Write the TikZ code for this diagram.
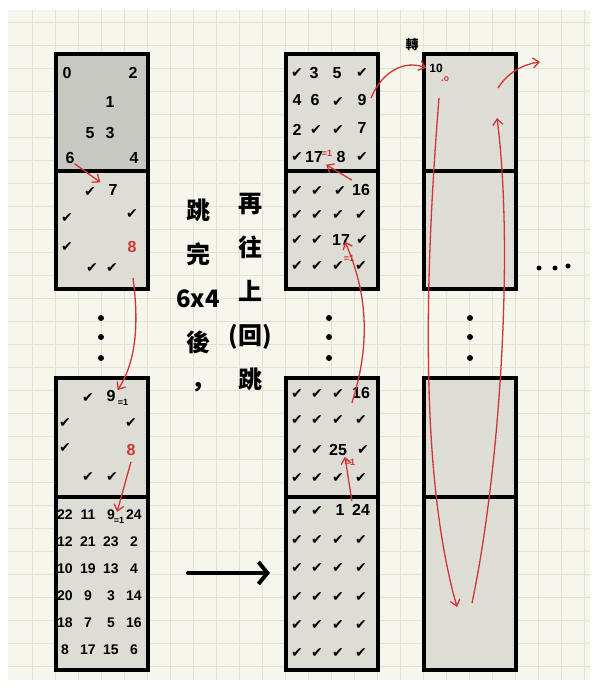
\documentclass[tikz,border=0pt]{standalone}
\usepackage{fontspec}
\setmainfont{Liberation Sans}
\newfontfamily\symfont{DejaVu Sans}
\newfontfamily\cjk{Noto Sans CJK TC}
\usetikzlibrary{arrows.meta,positioning}
\definecolor{paper}{HTML}{F7F6EC}
\definecolor{gridc}{HTML}{E2E1D3}
\definecolor{boxdark}{HTML}{C8C8C2}
\definecolor{boxlight}{HTML}{DDDCD5}
\definecolor{pen}{HTML}{D03535}
\newcommand{\ck}{{\symfont\mdseries\fontsize{14}{14}\selectfont ✔}}

\tikzset{
  blk/.style={draw=black, line width=4pt, fill=boxlight, minimum width=92pt, inner sep=0pt, anchor=north west},
  num/.style={font=\bfseries\fontsize{16}{16}\selectfont, inner sep=0pt},
  smallnum/.style={font=\bfseries\fontsize{14}{14}\selectfont, inner sep=0pt},
  chk/.style={inner sep=0pt},
  tiny1/.style={font=\bfseries\fontsize{9}{9}\selectfont, inner sep=0pt},
  redarr/.style={draw=pen, line width=1.3pt, -{Straight Barb[length=6pt,width=10pt]}},
  bigdot/.style={circle, fill=black, inner sep=0pt, minimum size=6pt},
  cjkt/.style={font=\cjk\bfseries\fontsize{24}{44}\selectfont, inner sep=0pt, align=center},
}

\begin{document}
\begin{tikzpicture}[x=1pt,y=-1pt]
  \useasboundingbox (0,0) rectangle (597,688);
  % paper and grid
  \fill[white] (0,0) rectangle (597,688);
  \fill[paper] (8,10) rectangle (590,680);
  \foreach \gx in {32,55,...,584} \draw[gridc, line width=1pt] (\gx,10) -- (\gx,680);
  \foreach \gy in {22,45,...,676} \draw[gridc, line width=1pt] (8,\gy) -- (590,\gy);

  % left column
  \node[blk, fill=boxdark, minimum height=117pt] (lA) at (54,52) {};
  \node[blk, minimum height=118pt] (lB) at (54,169) {};
  \node[blk, minimum height=119pt] (lC) at (54,376) {};
  \node[blk, minimum height=173pt] (lD) at (54,495) {};
  % middle column
  \node[blk, minimum height=117pt] (mA) at (284,52) {};
  \node[blk, minimum height=118pt] (mB) at (284,169) {};
  \node[blk, minimum height=119pt] (mC) at (284,376) {};
  \node[blk, minimum height=173pt] (mD) at (284,495) {};
  % right column
  \node[blk, minimum height=117pt] (rA) at (422,52) {};
  \node[blk, minimum height=118pt] (rB) at (422,169) {};
  \node[blk, minimum height=119pt] (rC) at (422,376) {};
  \node[blk, minimum height=173pt] (rD) at (422,495) {};

  % dots between blocks
  \foreach \dy [count=\k] in {318,337,358} {
    \node[bigdot] (ldot\k) at (101,\dy) {};
    \node[bigdot] (mdot\k) at (329,\dy) {};
    \node[bigdot] (rdot\k) at (470,\dy) {};
  }
  \node[bigdot, minimum size=5pt] (more1) at (539,268) {};
  \node[bigdot, minimum size=5pt] (more2) at (555,268) {};
  \node[bigdot, minimum size=5pt] (more3) at (568,266) {};

  % left block A
  \node[num] (la0) at (67,73) {0};
  \node[num] (la2) at (133,73) {2};
  \node[num] (la1) at (110,102) {1};
  \node[num] (la5) at (90,133) {5};
  \node[num] (la3) at (110,133) {3};
  \node[num] (la6) at (70,158) {6};
  \node[num] (la4) at (134,158) {4};
  % left block B
  \node[chk] (lb1) at (90,192) {\ck};
  \node[num] (lb7) at (113,190) {7};
  \node[chk] (lb2) at (67,218) {\ck};
  \node[chk] (lb3) at (132,214) {\ck};
  \node[chk] (lb4) at (67,247) {\ck};
  \node[num, text=pen] (lb8) at (132,247) {8};
  \node[chk] (lb5) at (92,268) {\ck};
  \node[chk] (lb6) at (112,268) {\ck};
  % left block C
  \node[chk] (lc1) at (88,398) {\ck};
  \node[num] (lc9) at (111,396) {9};
  \node[tiny1] (lc9e) at (123,402) {=1};
  \node[chk] (lc2) at (65,423) {\ck};
  \node[chk] (lc3) at (131,423) {\ck};
  \node[chk] (lc4) at (65,448) {\ck};
  \node[num, text=pen] (lc8) at (131,450) {8};
  \node[chk] (lc5) at (88,477) {\ck};
  \node[chk] (lc6) at (112,477) {\ck};
  % left block D (6x4)
  \foreach \row [count=\r] in {{22,11,9,24},{12,21,23,2},{10,19,13,4},{20,9,3,14},{18,7,5,16},{8,17,15,6}}
    \foreach \v [count=\c] in \row
      \node[smallnum] (ld-\r-\c) at ({42+23*\c},{488+27*\r}) {\v};
  \node[tiny1] (ld9e) at (119,520) {=1};

  % middle block A
  \node[chk] (ma1) at (297,73) {\ck};
  \node[num] (ma3) at (314,73) {3};
  \node[num] (ma5) at (337,73) {5};
  \node[chk] (ma2) at (362,73) {\ck};
  \node[num] (ma4) at (297,100) {4};
  \node[num] (ma6) at (315,100) {6};
  \node[chk] (ma7) at (338,102) {\ck};
  \node[num] (ma9) at (362,100) {9};
  \node[num] (matwo) at (297,130) {2};
  \node[chk] (ma8) at (316,130) {\ck};
  \node[chk] (ma10) at (338,130) {\ck};
  \node[num] (maseven) at (362,128) {7};
  \node[chk] (ma11) at (297,157) {\ck};
  \node[num] (ma17) at (314,157) {17};
  \node[tiny1, text=pen] (ma17e) at (327,153) {=1};
  \node[num] (maeight) at (341,157) {8};
  \node[chk] (ma12) at (362,157) {\ck};
  % middle block B
  \foreach \cx [count=\c] in {297,317,340} \node[chk] (mb-1-\c) at (\cx,191) {\ck};
  \node[num] (mb16) at (361,190) {16};
  \foreach \cx [count=\c] in {297,317,338,361} \node[chk] (mb-2-\c) at (\cx,215) {\ck};
  \node[chk] (mb-3-1) at (297,240) {\ck};
  \node[chk] (mb-3-2) at (317,240) {\ck};
  \node[num] (mb17) at (341,240) {17};
  \node[tiny1, text=pen] (mb17e) at (349,258) {=1};
  \node[chk] (mb-3-4) at (362,240) {\ck};
  \foreach \cx [count=\c] in {297,317,338,361} \node[chk] (mb-4-\c) at (\cx,266) {\ck};
  % middle block C
  \foreach \cx [count=\c] in {297,317,338} \node[chk] (mc-1-\c) at (\cx,394) {\ck};
  \node[num] (mc16) at (361,393) {16};
  \foreach \cx [count=\c] in {297,317,338,361} \node[chk] (mc-2-\c) at (\cx,420) {\ck};
  \node[chk] (mc-3-1) at (297,450) {\ck};
  \node[chk] (mc-3-2) at (317,450) {\ck};
  \node[num] (mc25) at (338,450) {25};
  \node[tiny1, text=pen] (mc25e) at (350,462) {=1};
  \node[chk] (mc-3-4) at (363,450) {\ck};
  \foreach \cx [count=\c] in {297,317,338,361} \node[chk] (mc-4-\c) at (\cx,478) {\ck};
  % middle block D
  \node[chk] (md-1-1) at (297,511) {\ck};
  \node[chk] (md-1-2) at (317,511) {\ck};
  \node[num] (md1) at (340,510) {1};
  \node[num] (md24) at (361,510) {24};
  \foreach \ry [count=\r from 2] in {540,568,597,625,653}
    \foreach \cx [count=\c] in {297,317,338,361}
      \node[chk] (md-\r-\c) at (\cx,\ry) {\ck};

  % right column labels
  \node[font=\cjk\bfseries\fontsize{13}{13}\selectfont, inner sep=0pt] (zhuan) at (412,45) {轉};
  \node[font=\bfseries\fontsize{12}{12}\selectfont, inner sep=0pt] (ra10) at (436,68) {10};
  \node[tiny1, text=pen] (ra10e) at (445,79) {.o};

  % notes
  \node[cjkt] (note1) at (198,297) {跳\\完\\6x4\\後\\，};
  \node[cjkt] (note2) at (250,292) {再\\往\\上\\(回)\\跳};

  % big arrow
  \coordinate (gofrom) at (188,573);
  \coordinate (goto) at (270,573);
  \draw[line width=4pt, line cap=round, -{Straight Barb[length=9pt,width=22pt,line width=4pt]}] (gofrom) -- (goto);

  % red jumps, left
  \draw[redarr] (la6.south east) -- ([xshift=-8pt,yshift=2pt]lb7.north west);
  \coordinate (l8low) at (133,278);
  \draw[redarr] (l8low) .. controls (140,330) and (134,365) .. ([xshift=2pt]lc9.north east);
  \draw[redarr] ([yshift=-6pt]lc8.south) -- ([xshift=2pt,yshift=-2pt]ld-1-3.north east);
  % red jumps, middle
  \draw[redarr] ([yshift=4pt]mb16.north west) -- ([xshift=3pt,yshift=-2pt]ma17.south east);
  \draw[redarr] ([yshift=-4pt]mc16.south west) .. controls (372,340) and (366,290) .. ([xshift=4pt,yshift=4pt]mb17.south);
  \draw[redarr] ([yshift=3pt]md24.north west) -- ([xshift=7pt,yshift=-1pt]mc25.south);
  \coordinate (m9right) at (371,98);
  \draw[redarr] (m9right) .. controls (383,70) and (405,60) .. ([xshift=-3pt]ra10.west);
  % red jumps, right
  \coordinate (r10low) at (439,98);
  \coordinate (rbottom) at (457,607);
  \coordinate (rbottom2) at (472,603);
  \coordinate (rtop) at (497,118);
  \coordinate (rtop2) at (498,88);
  \coordinate (rout) at (540,62);
  \draw[redarr] (r10low) .. controls (426,260) and (418,470) .. (rbottom);
  \draw[redarr] (rbottom2) .. controls (500,470) and (514,250) .. (rtop);
  \draw[redarr] (rtop2) .. controls (508,72) and (524,64) .. (rout);
\end{tikzpicture}
\end{document}
